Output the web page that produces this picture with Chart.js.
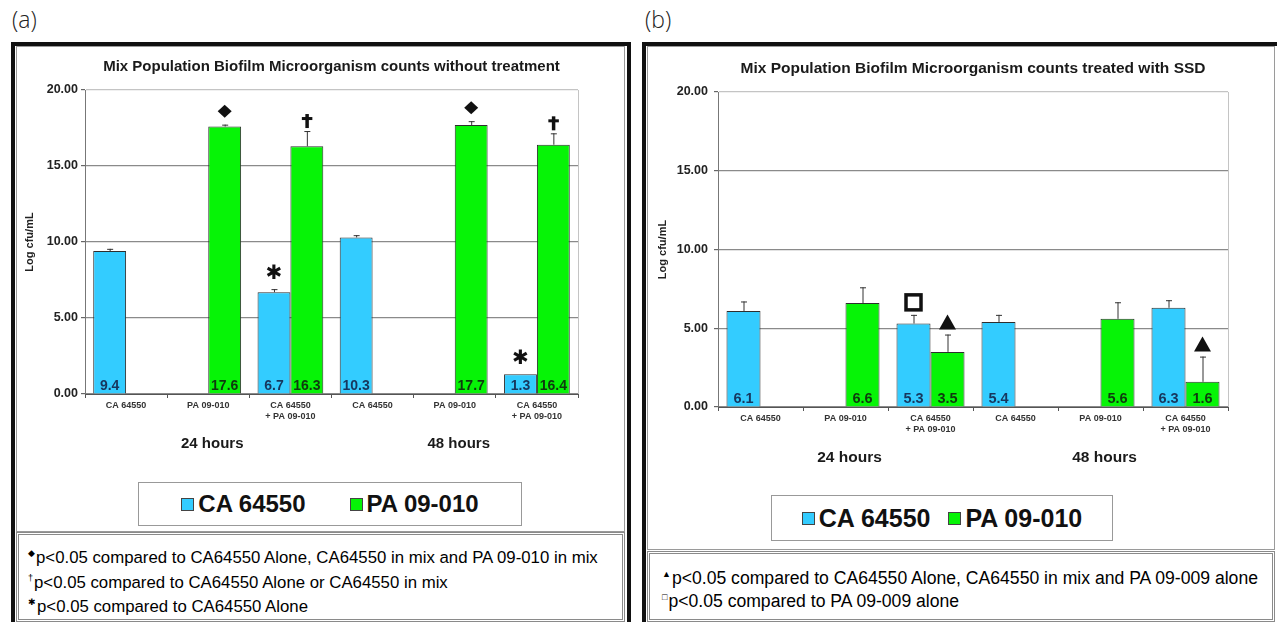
<!DOCTYPE html>
<html>
<head>
<meta charset="utf-8">
<script src="https://cdn.jsdelivr.net/npm/chart.js@4.4.0/dist/chart.umd.min.js"></script>
<style>
  html, body { margin: 0; padding: 0; background: #fff; }
  body { width: 1277px; height: 622px; position: relative; overflow: hidden; font-family: 'Liberation Sans', Arial, sans-serif; color: #000; }
  .tag { position: absolute; top: 3px; font-family: 'Open Sans', sans-serif; font-weight: 300; font-size: 23px; color: #222; }
  .panel { position: absolute; top: 42px; height: 620px; border: 4px solid #111; box-sizing: border-box; }
  .box { position: absolute; border: 1px solid #9a9a9a; box-sizing: border-box; background: #fff; }
  .notes { position: absolute; border: 3px double #8a8a8a; box-sizing: border-box; background: #fff; }
  .notes div { position: absolute; white-space: nowrap; line-height: 1; }
  .notes sup { font-size: 9px; vertical-align: 7px; margin-right: 1px; }
  .legend { position: absolute; border: 1px solid #999; box-sizing: border-box; background: #fff;
            display: flex; align-items: center; justify-content: center; font-weight: bold; color: #111; }
  .legend span.item { display: flex; align-items: center; }
  .legend i { display: inline-block; width: 11px; height: 11px; border: 1px solid #444; margin-right: 4px; }
  canvas { position: absolute; }
</style>
</head>
<body>

<div class="tag" style="left:12px">(a)</div>
<div class="tag" style="left:645px">(b)</div>

<div class="panel" style="left:11px; width:620px"></div>
<div class="panel" style="left:642px; width:660px"></div>

<div class="box" style="left:16px; top:46px; width:609px; height:486px"></div>
<div class="box" style="left:647px; top:46px; width:628px; height:504px"></div>

<canvas id="chartA" width="607" height="483" style="left:17px; top:47px"></canvas>
<canvas id="chartB" width="626" height="502" style="left:648px; top:47px"></canvas>

<div class="legend" id="legendA" style="left:138px; top:482px; width:384px; height:44px; font-size:24px; gap:44px"></div>
<div class="legend" id="legendB" style="left:771px; top:495px; width:342px; height:46px; font-size:25px; gap:18px"></div>

<div class="notes" style="left:16px; top:532px; width:609px; height:90px; font-size:16.8px">
  <div style="left:9px; top:14px"><sup>◆</sup>p&lt;0.05 compared to CA64550 Alone, CA64550 in mix and PA 09-010 in mix</div>
  <div style="left:9px; top:39px"><sup>†</sup>p&lt;0.05 compared to CA64550 Alone or CA64550 in mix</div>
  <div style="left:9px; top:63px"><sup>✱</sup>p&lt;0.05 compared to CA64550 Alone</div>
</div>
<div class="notes" style="left:647px; top:551px; width:628px; height:71px; font-size:17.6px">
  <div style="left:12px; top:16px"><sup>▲</sup>p&lt;0.05 compared to CA64550 Alone, CA64550 in mix and PA 09-009 alone</div>
  <div style="left:12px; top:39px"><sup>□</sup>p&lt;0.05 compared to PA 09-009 alone</div>
</div>

<script>
// Categories and series
const categories = ['CA 64550', 'PA 09-010', ['CA 64550', '+ PA 09-010'], 'CA 64550', 'PA 09-010', ['CA 64550', '+ PA 09-010']];
const groupLabels = ['24 hours', '48 hours'];
const seriesNames = ['CA 64550', 'PA 09-010'];
const seriesColors = ['#33ccff', '#06f406'];
const valueColors = ['#17375e', '#0f3a0f'];
const yTickValues = [0, 5, 10, 15, 20];

// (a) without treatment
const caNoTreat = [9.4, null, 6.7, 10.3, null, 1.3];
const paNoTreat = [null, 17.6, 16.3, null, 17.7, 16.4];
const caNoTreatErr = [0.15, null, 0.2, 0.15, null, 0];
const paNoTreatErr = [null, 0.12, 1.0, null, 0.25, 0.75];
const caNoTreatMarks = [null, null, 'asterisk', null, null, 'asterisk'];
const paNoTreatMarks = [null, 'diamond', 'dagger', null, 'diamond', 'dagger'];

// (b) treated with SSD
const caSSD = [6.1, null, 5.3, 5.4, null, 6.3];
const paSSD = [null, 6.6, 3.5, null, 5.6, 1.6];
const caSSDErr = [0.6, null, 0.55, 0.45, null, 0.48];
const paSSDErr = [null, 1.0, 1.1, null, 1.05, 1.6];
const caSSDMarks = [null, null, 'square', null, null, null];
const paSSDMarks = [null, null, 'triangle', null, null, 'triangle'];

const FONT = "'Liberation Sans', Arial, sans-serif";

// Legends
function renderLegend(id) {
    document.getElementById(id).innerHTML = seriesNames.map((name, i) =>
        `<span class="item"><i style="background:${seriesColors[i]}"></i>${name}</span>`
    ).join('');
}

// Significance marks
const markGap = { diamond: 7, dagger: 3, asterisk: 8, square: 5, triangle: 5 };
function drawMark(ctx, type, cx, top) {
    const b = top - markGap[type];
    ctx.fillStyle = '#111';
    ctx.strokeStyle = '#111';
    if (type === 'diamond') {
        ctx.beginPath();
        ctx.moveTo(cx, b - 13); ctx.lineTo(cx + 7, b - 6.5);
        ctx.lineTo(cx, b); ctx.lineTo(cx - 7, b - 6.5);
        ctx.closePath(); ctx.fill();
    } else if (type === 'triangle') {
        ctx.beginPath();
        ctx.moveTo(cx, b - 15); ctx.lineTo(cx + 8.5, b); ctx.lineTo(cx - 8.5, b);
        ctx.closePath(); ctx.fill();
    } else if (type === 'square') {
        ctx.lineWidth = 3.5;
        ctx.strokeRect(cx - 7.5, b - 15, 15, 15);
    } else if (type === 'dagger') {
        // heavy dagger: stem plus cross bar
        ctx.fillRect(cx - 1.5, b - 14, 3.5, 14);
        ctx.fillRect(cx - 5, b - 11, 10.5, 3);
    } else if (type === 'asterisk') {
        ctx.font = "20px 'DejaVu Sans'";
        ctx.textAlign = 'center';
        ctx.textBaseline = 'middle';
        ctx.fillText('✱', cx, b - 7.5);
    }
}

// Error bars, value labels, marks and group labels
const barExtras = {
    id: 'barExtras',
    beforeDatasetsDraw(chart) {
        const { ctx, chartArea } = chart;
        ctx.save();
        ctx.strokeStyle = '#c4c4c4';
        ctx.lineWidth = 1;
        ctx.beginPath();
        ctx.moveTo(chartArea.right + 0.5, chartArea.top);
        ctx.lineTo(chartArea.right + 0.5, chartArea.bottom);
        ctx.stroke();
        ctx.restore();
    },
    afterDatasetsDraw(chart, args, opts) {
        const { ctx, chartArea, scales: { x, y } } = chart;
        chart.data.datasets.forEach((ds, i) => {
            const meta = chart.getDatasetMeta(i);
            meta.data.forEach((bar, j) => {
                const v = ds.data[j];
                if (v == null) return;
                const err = ds.errors[j] || 0;
                const top = y.getPixelForValue(v + err);
                ctx.save();
                if (err > 0) {
                    ctx.strokeStyle = '#333';
                    ctx.lineWidth = 1;
                    ctx.beginPath();
                    ctx.moveTo(bar.x + 0.5, bar.y);
                    ctx.lineTo(bar.x + 0.5, top);
                    ctx.moveTo(bar.x - 2.5, top + 0.5);
                    ctx.lineTo(bar.x + 3.5, top + 0.5);
                    ctx.stroke();
                }
                ctx.fillStyle = ds.labelColor;
                ctx.font = 'bold ' + opts.valueSize + 'px ' + FONT;
                ctx.textAlign = 'center';
                ctx.textBaseline = 'alphabetic';
                ctx.fillText(v.toFixed(1), bar.x, chartArea.bottom - 4);
                if (ds.marks[j]) drawMark(ctx, ds.marks[j], bar.x, top);
                ctx.restore();
            });
        });
        ctx.save();
        ctx.fillStyle = '#1a1a1a';
        ctx.font = 'bold ' + opts.groupSize + 'px ' + FONT;
        ctx.textAlign = 'center';
        ctx.textBaseline = 'middle';
        groupLabels.forEach((g, k) => {
            ctx.fillText(g, x.getPixelForValue(1 + 3 * k) + opts.groupShift, chartArea.bottom + opts.groupOffset);
        });
        ctx.restore();
    }
};

function makeChart(id, cfg) {
    const ctx = document.getElementById(id).getContext('2d');
    return new Chart(ctx, {
        type: 'bar',
        data: {
            labels: categories,
            datasets: [
                { label: seriesNames[0], data: cfg.ca, errors: cfg.caErr, marks: cfg.caMarks,
                  backgroundColor: seriesColors[0], labelColor: valueColors[0] },
                { label: seriesNames[1], data: cfg.pa, errors: cfg.paErr, marks: cfg.paMarks,
                  backgroundColor: seriesColors[1], labelColor: valueColors[1] }
            ].map(d => Object.assign(d, {
                borderColor: '#2e2e2e', borderWidth: 1,
                barPercentage: 1.0, categoryPercentage: 0.8
            }))
        },
        options: {
            responsive: false,
            animation: false,
            devicePixelRatio: 1,
            layout: { padding: { left: 0, right: cfg.padRight, top: 0, bottom: 0 } },
            plugins: {
                legend: { display: false },
                tooltip: { enabled: false },
                title: {
                    display: true, text: cfg.title, fullSize: false,
                    color: '#1a1a1a',
                    font: { family: FONT, size: cfg.titleSize, weight: 'bold', lineHeight: 1.2 },
                    padding: { top: cfg.titleTop, bottom: cfg.titleBottom }
                },
                barExtras: { valueSize: cfg.valueSize, groupSize: cfg.groupSize,
                             groupOffset: cfg.groupOffset, groupShift: 4 }
            },
            scales: {
                x: {
                    afterFit: s => { s.height = cfg.below; },
                    grid: { display: true, drawOnChartArea: false, offset: true, tickLength: 4, color: '#555' },
                    border: { color: '#555', width: 1 },
                    ticks: { color: '#333', autoSkip: false, maxRotation: 0, padding: 2,
                             font: { family: FONT, size: 9, weight: 'bold', lineHeight: 1.2 } }
                },
                y: {
                    min: 0, max: 20,
                    afterFit: s => { s.width = cfg.left; },
                    afterBuildTicks: s => { s.ticks = yTickValues.map(v => ({ value: v })); },
                    grid: {
                        tickLength: 4, tickColor: '#666', lineWidth: 1.2,
                        color: c => c.tick && c.tick.value === 20 ? '#c4c4c4' : '#8a8a8a'
                    },
                    border: { color: '#777', width: 1 },
                    ticks: { color: '#222', padding: cfg.tickPad,
                             font: { family: FONT, size: 12.5, weight: 'bold' },
                             callback: v => Number(v).toFixed(2) },
                    title: { display: true, text: 'Log cfu/mL', color: '#222',
                             font: { family: FONT, size: 11, weight: 'bold', lineHeight: 1.2 },
                             padding: { top: cfg.yTitlePad, bottom: 0 } }
                }
            }
        },
        plugins: [barExtras]
    });
}

renderLegend('legendA');
renderLegend('legendB');

makeChart('chartA', {
    title: 'Mix Population Biofilm Microorganism counts without treatment',
    ca: caNoTreat, pa: paNoTreat, caErr: caNoTreatErr, paErr: paNoTreatErr,
    caMarks: caNoTreatMarks, paMarks: paNoTreatMarks,
    left: 68, padRight: 46, below: 136, titleSize: 15, titleTop: 11, titleBottom: 14,
    tickPad: 3, yTitlePad: 6, valueSize: 14, groupSize: 15, groupOffset: 50
});

makeChart('chartB', {
    title: 'Mix Population Biofilm Microorganism counts treated with SSD',
    ca: caSSD, pa: paSSD, caErr: caSSDErr, paErr: paSSDErr,
    caMarks: caSSDMarks, paMarks: paSSDMarks,
    left: 70, padRight: 46, below: 142, titleSize: 15.5, titleTop: 12.7, titleBottom: 13.7,
    tickPad: 6, yTitlePad: 8, valueSize: 14.5, groupSize: 15.5, groupOffset: 51
});
</script>
</body>
</html>
